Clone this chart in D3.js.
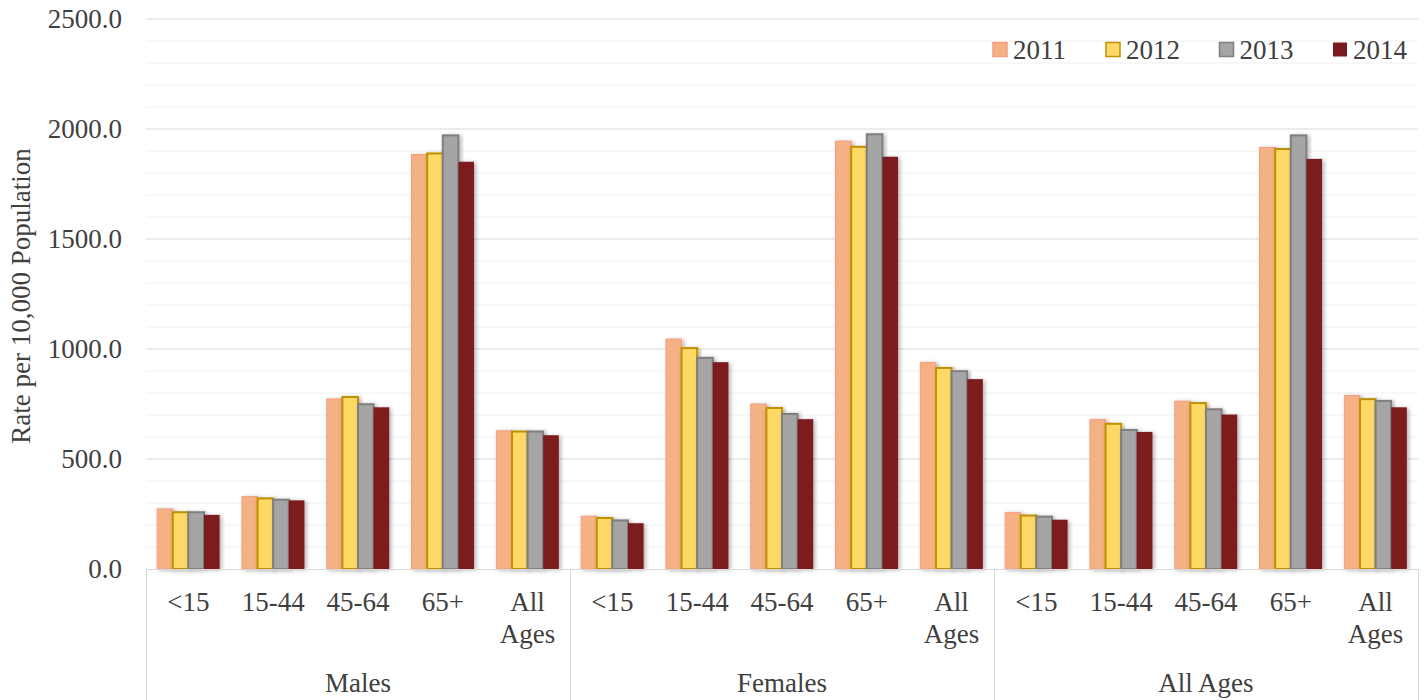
<!DOCTYPE html>
<html>
<head>
<meta charset="utf-8">
<script src="https://cdn.jsdelivr.net/npm/d3@7"></script>
<style>
  html, body { margin: 0; padding: 0; background: #fff; }
  svg text { font-family: "Liberation Serif", "Times New Roman", serif; fill: #404040; }
</style>
</head>
<body>
<svg id="chart" width="1424" height="700"></svg>
<script>
const groups = ["Males", "Females", "All Ages"];
const ages = ["<15", "15-44", "45-64", "65+", "All Ages"];
const years = ["2011", "2012", "2013", "2014"];
const v2011 = [273, 329, 773, 1884, 628, 240, 1045, 750, 1945, 939, 256, 679, 763, 1916, 788];
const v2012 = [258, 321, 782, 1889, 625, 232, 1004, 732, 1919, 914, 243, 660, 754, 1909, 772];
const v2013 = [258, 315, 749, 1971, 625, 221, 960, 705, 1976, 899, 238, 632, 726, 1971, 764];
const v2014 = [246, 312, 735, 1851, 608, 208, 940, 681, 1874, 863, 224, 623, 702, 1864, 735];
const yTicks = [0, 500, 1000, 1500, 2000, 2500];
const yTitle = "Rate per 10,000 Population";

const seriesValues = [v2011, v2012, v2013, v2014];
const fills = ["#F4B183", "#FFD966", "#A5A5A5", "#7B1A1E"];
const strokes = ["#F59C82", "#BF9000", "#7F7F7F", "none"];
const strokeW = [1, 2, 2, 0];

const svg = d3.select("#chart");
const mLeft = 146, mRight = 1418, mTop = 19, mBottom = 569;

const defs = svg.append("defs");
const f = defs.append("filter").attr("id", "shadow").attr("x", "-30%").attr("y", "-10%").attr("width", "160%").attr("height", "120%");
f.append("feDropShadow").attr("dx", 2).attr("dy", 1).attr("stdDeviation", 2).attr("flood-color", "#000").attr("flood-opacity", 0.3);

const cats = [];
groups.forEach(g => ages.forEach(a => cats.push(g + "|" + a)));

const x0 = d3.scaleBand().domain(cats).range([mLeft, mRight]).padding(0);
const xg = d3.scaleBand().domain(groups).range([mLeft, mRight]).padding(0);
const x1 = d3.scaleBand().domain(years).range([0, x0.bandwidth()]).paddingInner(0).paddingOuter(0.715);
const y = d3.scaleLinear().domain([0, 2500]).range([mBottom, mTop]);

// minor gridlines
svg.append("g").selectAll("line").data(y.ticks(25).filter(t => t % 500 !== 0)).join("line")
  .attr("x1", mLeft).attr("x2", mRight).attr("y1", d => y(d)).attr("y2", d => y(d))
  .attr("stroke", "#F0F0F0").attr("stroke-width", 1);
// major gridlines
svg.append("g").selectAll("line").data(yTicks.filter(t => t > 0)).join("line")
  .attr("x1", mLeft).attr("x2", mRight).attr("y1", d => y(d)).attr("y2", d => y(d))
  .attr("stroke", "#D9D9D9").attr("stroke-width", 1);

// y tick labels
svg.append("g").selectAll("text").data(yTicks).join("text")
  .attr("x", 122).attr("y", d => y(d)).attr("dy", "0.35em")
  .attr("text-anchor", "end").attr("font-size", 27)
  .text(d => d3.format(".1f")(d));

// y title
svg.append("text")
  .attr("transform", `translate(30, ${(mTop + mBottom) / 2 + 2}) rotate(-90)`)
  .attr("text-anchor", "middle").attr("font-size", 27)
  .text(yTitle);

// bars
const barsG = svg.append("g");
years.forEach((yr, si) => {
  barsG.append("g").selectAll("rect").data(seriesValues[si]).join("rect")
    .attr("x", (d, i) => x0(cats[i]) + x1(yr))
    .attr("y", d => y(d))
    .attr("width", x1.bandwidth())
    .attr("height", d => y(0) - y(d))
    .attr("fill", fills[si])
    .attr("stroke", strokes[si])
    .attr("stroke-width", strokeW[si])
    .attr("filter", "url(#shadow)");
});

// x axis line
svg.append("line").attr("x1", mLeft).attr("x2", mRight).attr("y1", mBottom + 0.5).attr("y2", mBottom + 0.5)
  .attr("stroke", "#D9D9D9").attr("stroke-width", 1);
// group separators
const seps = groups.map(g => xg(g)).concat([mRight]);
svg.append("g").selectAll("line").data(seps).join("line")
  .attr("x1", d => d + 0.5).attr("x2", d => d + 0.5).attr("y1", mBottom).attr("y2", 700)
  .attr("stroke", "#D9D9D9").attr("stroke-width", 1);

// category labels
const catG = svg.append("g");
cats.forEach(c => {
  const a = c.split("|")[1];
  const cx = x0(c) + x0.bandwidth() / 2;
  const t = catG.append("text").attr("x", cx).attr("y", 611).attr("text-anchor", "middle").attr("font-size", 27);
  if (a === "All Ages") {
    t.append("tspan").attr("x", cx).attr("dy", 0).text("All");
    t.append("tspan").attr("x", cx).attr("dy", 32).text("Ages");
  } else {
    t.text(a);
  }
});
// group labels
svg.append("g").selectAll("text").data(groups).join("text")
  .attr("x", d => xg(d) + xg.bandwidth() / 2).attr("y", 692)
  .attr("text-anchor", "middle").attr("font-size", 27)
  .text(d => d);

// legend
const legX = [993, 1106, 1219.5, 1333];
const leg = svg.append("g");
years.forEach((yr, i) => {
  leg.append("rect").attr("x", legX[i]).attr("y", 42.5).attr("width", 14).attr("height", 14)
    .attr("fill", fills[i]).attr("stroke", strokes[i]).attr("stroke-width", strokeW[i] ? 1.5 : 0);
  leg.append("text").attr("x", legX[i] + 20).attr("y", 58.5).attr("font-size", 27).text(yr);
});
</script>
</body>
</html>
